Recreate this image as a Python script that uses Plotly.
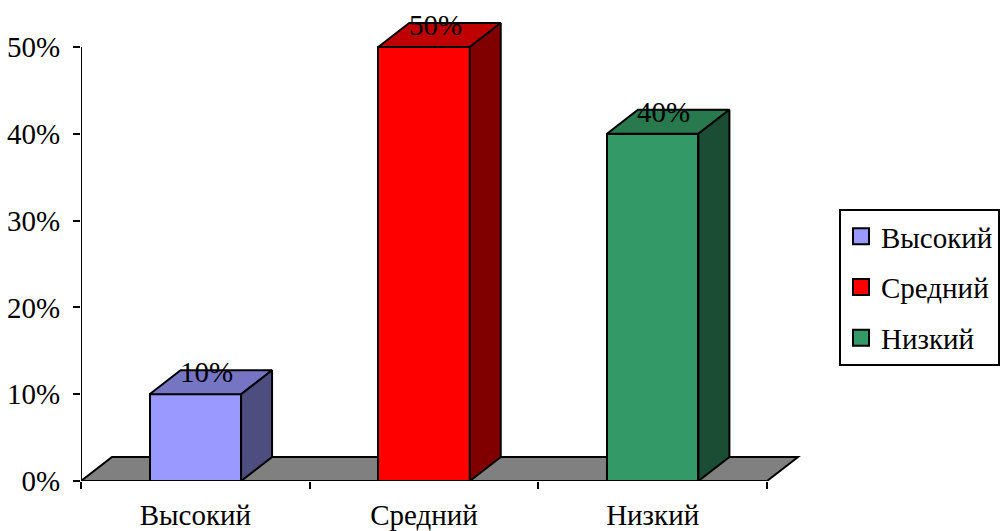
import plotly.graph_objects as go

# Chart data
categories = ["Высокий", "Средний", "Низкий"]
values = [0.10, 0.50, 0.40]
front_colors = ["#9999FF", "#FF0000", "#339966"]
top_colors = ["#7575C4", "#BF0000", "#29794F"]
side_colors = ["#4D4D80", "#800000", "#1A4D33"]
y_ticks = [0, 0.1, 0.2, 0.3, 0.4, 0.5]
y_labels = ["0%", "10%", "20%", "30%", "40%", "50%"]

# Oblique projection and plot box, in pixels
W, H = 1001, 531
PLOT_L, PLOT_R, PLOT_T, PLOT_B = 81, 810, 10, 481
CAT_PX = 228.67
UNIT_PX = 868.0
DEPTH_X = 31 / CAT_PX
DEPTH_Y = 24 / UNIT_PX
BAR_W = 0.40
FONT = "Liberation Serif"
SIZE = 29
INK = "#000000"

positions = [i + 0.5 for i in range(len(categories))]
fig = go.Figure()

# Front faces
fig.add_trace(go.Bar(
    x=positions, y=values, width=BAR_W,
    marker=dict(color=front_colors, line=dict(color=INK, width=2)),
    showlegend=False, hoverinfo="skip",
))

# Top and side faces of each bar
for p, v, top, side in zip(positions, values, top_colors, side_colors):
    l, r = p - BAR_W / 2, p + BAR_W / 2
    fig.add_trace(go.Scatter(
        x=[l, r, r + DEPTH_X, l + DEPTH_X, l],
        y=[v, v, v + DEPTH_Y, v + DEPTH_Y, v],
        mode="lines", fill="toself", fillcolor=top,
        line=dict(color=INK, width=2), showlegend=False, hoverinfo="skip",
    ))
    fig.add_trace(go.Scatter(
        x=[r, r + DEPTH_X, r + DEPTH_X, r, r],
        y=[0, DEPTH_Y, v + DEPTH_Y, v, 0],
        mode="lines", fill="toself", fillcolor=side,
        line=dict(color=INK, width=2), showlegend=False, hoverinfo="skip",
    ))

# Axis lines stop at the end of the scale, short of the floor depth
fig.add_trace(go.Scatter(
    x=[0, 0, len(categories)], y=[max(y_ticks), 0, 0], mode="lines",
    line=dict(color=INK, width=2), showlegend=False, hoverinfo="skip",
))

# Legend entries
for name, color in zip(categories, front_colors):
    fig.add_trace(go.Scatter(
        x=[None], y=[None], mode="markers", name=name, legendgroup=name,
        marker=dict(symbol="square", size=16, color=color,
                    line=dict(color=INK, width=2)),
    ))

# Floor plate under the bars
n = len(categories)
floor = (f"M 0 0 L {n} 0 L {n + DEPTH_X} {DEPTH_Y} L {DEPTH_X} {DEPTH_Y} Z")
fig.add_shape(type="path", path=floor, xref="x", yref="y", layer="below",
              fillcolor="#808080", line=dict(color=INK, width=2))

# Value labels sit on the top face
for p, v in zip(positions, values):
    fig.add_annotation(
        x=p, y=v, text=f"{v:.0%}", showarrow=False, xshift=11, yshift=22,
        font=dict(family=FONT, size=SIZE, color=INK),
    )

fig.update_layout(
    width=W, height=H, autosize=False,
    margin=dict(l=PLOT_L, r=W - PLOT_R, t=PLOT_T, b=H - PLOT_B, pad=0, autoexpand=False),
    paper_bgcolor="white", plot_bgcolor="white",
    font=dict(family=FONT, size=SIZE, color=INK),
    bargap=0,
    xaxis=dict(
        range=[0, (PLOT_R - PLOT_L) / CAT_PX], showgrid=False, zeroline=False,
        showline=False, tickmode="array", tickvals=positions, ticktext=categories,
        ticks="", ticklabelstandoff=14,
        minor=dict(tickmode="array", tickvals=list(range(n + 1)), ticks="outside",
                   ticklen=7, tickwidth=2, tickcolor=INK, showgrid=False),
    ),
    yaxis=dict(
        range=[0, (PLOT_B - PLOT_T) / UNIT_PX], showgrid=False, zeroline=False,
        showline=False, tickmode="array", tickvals=y_ticks, ticktext=y_labels,
        ticks="outside", ticklen=7, tickwidth=2, tickcolor=INK,
        ticklabelstandoff=7,
    ),
    legend=dict(
        x=(839 - PLOT_L) / (PLOT_R - PLOT_L),
        y=(PLOT_B - 209) / (PLOT_B - PLOT_T),
        xanchor="left", yanchor="top",
        bgcolor="white", bordercolor=INK, borderwidth=2,
        tracegroupgap=10, itemsizing="trace",
        font=dict(family=FONT, size=SIZE, color=INK),
    ),
)

fig.write_html("out.html", config={"displayModeBar": False})
